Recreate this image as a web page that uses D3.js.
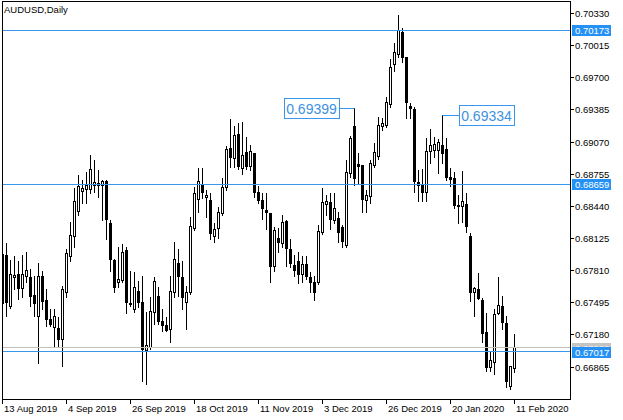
<!DOCTYPE html>
<html>
<head>
<meta charset="utf-8">
<script src="https://cdn.jsdelivr.net/npm/d3@7"></script>
<style>
body { margin: 0; background: #fff; }
svg { display: block; font-family: "Liberation Sans", Arial, sans-serif; }
</style>
</head>
<body>
<script>
// daily candles AUDUSD, 13 Aug 2019 .. 11 Feb 2020
var opens = [
    0.67968, 0.67958, 0.67460, 0.67743, 0.67772, 0.67636, 0.67753, 0.67743, 0.67567, 0.67362,
    0.67753, 0.67518, 0.67332, 0.67254, 0.67244, 0.67137, 0.67596, 0.67949, 0.68144, 0.68389,
    0.68584, 0.68604, 0.68604, 0.68643, 0.68643, 0.68643, 0.68682, 0.68271, 0.67909, 0.67694,
    0.67714, 0.68007, 0.67489, 0.67430, 0.67606, 0.67499, 0.67029, 0.67058, 0.67401, 0.67557,
    0.67313, 0.67274, 0.67235, 0.67596, 0.67880, 0.67743, 0.67499, 0.67596, 0.68222, 0.68506,
    0.68653, 0.68526, 0.68496, 0.68144, 0.68222, 0.68369, 0.68623, 0.69005, 0.68907, 0.69142,
    0.68809, 0.68966, 0.68829, 0.68956, 0.68574, 0.68496, 0.68398, 0.68369, 0.67851, 0.68125,
    0.68076, 0.68291, 0.68017, 0.67861, 0.67900, 0.67772, 0.67870, 0.67743, 0.67694, 0.67694,
    0.68183, 0.68457, 0.68477, 0.68301, 0.68320, 0.68232, 0.68056, 0.68760, 0.69220, 0.68848,
    0.68839, 0.68496, 0.68535, 0.68839, 0.68927, 0.69220, 0.69230, 0.69435, 0.69826, 0.69924,
    0.70139, 0.69895, 0.69416, 0.69386, 0.68672, 0.68643, 0.68574, 0.68975, 0.68985, 0.68985,
    0.69034, 0.68995, 0.68721, 0.68711, 0.68447, 0.68438, 0.68457, 0.68144, 0.67596, 0.67626,
    0.67518, 0.67205, 0.66863, 0.66912, 0.67391, 0.67460, 0.67293, 0.66677, 0.66853
];
var highs = [
    0.68017, 0.68076, 0.67909, 0.67949, 0.67900, 0.67958, 0.67988, 0.67821, 0.67753, 0.67880,
    0.67802, 0.67626, 0.67430, 0.67430, 0.67352, 0.67655, 0.68017, 0.68291, 0.68623, 0.68750,
    0.68702, 0.68780, 0.68946, 0.68897, 0.68799, 0.68702, 0.68702, 0.68310, 0.67919, 0.68046,
    0.68066, 0.68046, 0.67802, 0.67792, 0.67704, 0.67753, 0.67401, 0.67548, 0.67743, 0.67645,
    0.67430, 0.67352, 0.67753, 0.68095, 0.68017, 0.67900, 0.67655, 0.68340, 0.68633, 0.68819,
    0.68819, 0.68604, 0.68574, 0.68281, 0.68438, 0.68721, 0.69034, 0.69298, 0.69230, 0.69259,
    0.69269, 0.69122, 0.69044, 0.68966, 0.68643, 0.68574, 0.68574, 0.68379, 0.68242, 0.68232,
    0.68350, 0.68310, 0.68115, 0.67958, 0.67997, 0.67949, 0.67949, 0.67792, 0.67753, 0.68261,
    0.68623, 0.68555, 0.68574, 0.68574, 0.68389, 0.68261, 0.68897, 0.69132, 0.69399, 0.68966,
    0.68848, 0.68604, 0.68897, 0.69063, 0.69318, 0.69308, 0.69513, 0.69885, 0.70041, 0.70315,
    0.70188, 0.69905, 0.69455, 0.69416, 0.68799, 0.68809, 0.69112, 0.69200, 0.69122, 0.69103,
    0.69334, 0.69112, 0.68819, 0.68780, 0.68555, 0.68790, 0.68574, 0.68183, 0.67645, 0.67782,
    0.67538, 0.67391, 0.67019, 0.67430, 0.67743, 0.67557, 0.67362, 0.66873, 0.67186
];
var lows = [
    0.67469, 0.67362, 0.67440, 0.67626, 0.67528, 0.67548, 0.67694, 0.67460, 0.67362, 0.66902,
    0.67430, 0.67264, 0.67264, 0.67068, 0.67058, 0.66873, 0.67548, 0.67900, 0.68046, 0.68359,
    0.68477, 0.68477, 0.68574, 0.68584, 0.68535, 0.68310, 0.68115, 0.67802, 0.67596, 0.67645,
    0.67694, 0.67391, 0.67460, 0.67401, 0.67450, 0.66726, 0.66697, 0.67039, 0.67283, 0.67283,
    0.67215, 0.67215, 0.67107, 0.67548, 0.67557, 0.67430, 0.67235, 0.67577, 0.68203, 0.68389,
    0.68526, 0.68340, 0.68115, 0.68095, 0.68125, 0.68350, 0.68604, 0.68829, 0.68829, 0.68809,
    0.68760, 0.68809, 0.68799, 0.68535, 0.68477, 0.68320, 0.68213, 0.67694, 0.67802, 0.67988,
    0.68037, 0.67851, 0.67841, 0.67753, 0.67684, 0.67694, 0.67724, 0.67596, 0.67518, 0.67675,
    0.68164, 0.68359, 0.68213, 0.68281, 0.68095, 0.68037, 0.68037, 0.68731, 0.68653, 0.68672,
    0.68389, 0.68389, 0.68477, 0.68829, 0.68907, 0.69191, 0.69220, 0.69416, 0.69768, 0.69905,
    0.69856, 0.69308, 0.69308, 0.68584, 0.68496, 0.68496, 0.68496, 0.68868, 0.68927, 0.68770,
    0.68868, 0.68702, 0.68643, 0.68428, 0.68281, 0.68291, 0.68193, 0.67508, 0.67362, 0.67528,
    0.67107, 0.66824, 0.66824, 0.66794, 0.67381, 0.67235, 0.66667, 0.66648, 0.66814
];
var closes = [
    0.67489, 0.67499, 0.67772, 0.67763, 0.67636, 0.67772, 0.67812, 0.67557, 0.67489, 0.67753,
    0.67508, 0.67332, 0.67283, 0.67362, 0.67137, 0.67626, 0.67978, 0.68154, 0.68486, 0.68633,
    0.68614, 0.68643, 0.68799, 0.68672, 0.68662, 0.68682, 0.68310, 0.67919, 0.67645, 0.67724,
    0.67988, 0.67499, 0.67479, 0.67645, 0.67499, 0.67039, 0.67078, 0.67411, 0.67704, 0.67313,
    0.67274, 0.67225, 0.67606, 0.67919, 0.67753, 0.67548, 0.67596, 0.68242, 0.68565, 0.68682,
    0.68574, 0.68545, 0.68173, 0.68213, 0.68379, 0.68623, 0.68995, 0.68917, 0.69132, 0.68829,
    0.68936, 0.68829, 0.68975, 0.68574, 0.68496, 0.68418, 0.68379, 0.67851, 0.68203, 0.68085,
    0.68281, 0.68027, 0.67880, 0.67812, 0.67772, 0.67870, 0.67753, 0.67694, 0.67596, 0.68193,
    0.68477, 0.68486, 0.68310, 0.68418, 0.68183, 0.68095, 0.68770, 0.69103, 0.68711, 0.68829,
    0.68506, 0.68545, 0.68858, 0.68966, 0.69230, 0.69249, 0.69455, 0.69797, 0.69944, 0.70159,
    0.69895, 0.69455, 0.69396, 0.68682, 0.68643, 0.68574, 0.68975, 0.69034, 0.69044, 0.69063,
    0.68956, 0.68721, 0.68702, 0.68447, 0.68438, 0.68486, 0.68242, 0.67596, 0.67636, 0.67538,
    0.67195, 0.66863, 0.66931, 0.67381, 0.67469, 0.67303, 0.66726, 0.66873, 0.67060
];

// time axis labels and the bar they belong to
var dateLabels = ["13 Aug 2019", "4 Sep 2019", "26 Sep 2019", "18 Oct 2019", "11 Nov 2019",
    "3 Dec 2019", "26 Dec 2019", "20 Jan 2020", "11 Feb 2020"];
var dateBars = [0, 16, 32, 48, 64, 80, 96, 112, 128];

// price scale labels
var priceTicks = [0.70330, 0.70015, 0.69700, 0.69385, 0.69070, 0.68755, 0.68440,
    0.68125, 0.67810, 0.67495, 0.67180, 0.66865];

// horizontal lines, bid line and price labels
var levels = [0.70173, 0.68659, 0.67017];
var bidPrice = 0.67060;
var markBars = [88, 110];
var markPrices = [0.69399, 0.69334];

var lineColor = "#3896ec",
    tagColor = "#2591f5";

var frame = {left: 2, top: 1.5, right: 570, bottom: 399};

var svg = d3.select("body").append("svg")
    .attr("width", 623)
    .attr("height", 420);

var x = d3.scaleLinear()
    .domain([0, opens.length - 1])
    .range([2.5, 514.5]);

var y = d3.scaleLinear()
    .domain([0.66865, 0.70330])
    .range([367, 13.5]);

function snap(v) {
    return Math.round(v - 0.5) + 0.5;
}

svg.append("clipPath")
    .attr("id", "plot")
    .append("rect")
    .attr("x", frame.left + 0.5)
    .attr("y", frame.top + 0.5)
    .attr("width", frame.right - frame.left - 0.5)
    .attr("height", frame.bottom - frame.top - 0.5);

var plot = svg.append("g").attr("clip-path", "url(#plot)");

// candles: wick first, body on top
var candles = plot.append("g")
    .attr("shape-rendering", "crispEdges")
    .selectAll("g")
    .data(opens.map(function (o, i) {
        return {i: i, o: o, h: highs[i], l: lows[i], c: closes[i]};
    }))
    .enter().append("g");

candles.append("line")
    .attr("x1", function (d) { return x(d.i); })
    .attr("x2", function (d) { return x(d.i); })
    .attr("y1", function (d) { return Math.round(y(d.h)); })
    .attr("y2", function (d) { return Math.round(y(d.l)) + 1; })
    .attr("stroke", "#000");

candles.append("path")
    .attr("d", function (d) {
        var cx = x(d.i),
            top = snap(y(Math.max(d.o, d.c))),
            bot = snap(y(Math.min(d.o, d.c)));
        return "M" + (cx - 1) + "," + top + "H" + (cx + 1) + "V" + bot + "H" + (cx - 1) + "Z";
    })
    .attr("fill", function (d) { return d.c >= d.o ? "#fff" : "#000"; })
    .attr("stroke", "#000");

// bid line (1px filled strip)
plot.append("rect")
    .attr("x", frame.left)
    .attr("width", frame.right - frame.left)
    .attr("y", Math.round(y(bidPrice)))
    .attr("height", 1)
    .attr("fill", "#c0c0c0");

// horizontal levels
plot.selectAll(".level")
    .data(levels)
    .enter().append("rect")
    .attr("class", "level")
    .attr("x", frame.left)
    .attr("width", frame.right - frame.left)
    .attr("y", function (d) { return Math.round(y(d)); })
    .attr("height", 1)
    .attr("fill", lineColor);

// boxed price labels with a leader to the candle
var boxW = 55, boxH = 20, gap = [-15.5, 16];
markPrices.forEach(function (p, i) {
    var cx = x(markBars[i]),
        py = Math.round(y(p)),
        bx = gap[i] < 0 ? cx + gap[i] - boxW : cx + gap[i];
    bx = Math.round(bx);
    var edge = gap[i] < 0 ? bx + boxW : bx;
    plot.append("rect")
        .attr("x", Math.min(cx, edge))
        .attr("width", Math.abs(edge - cx))
        .attr("y", py)
        .attr("height", 1)
        .attr("fill", lineColor);
    plot.append("rect")
        .attr("x", bx + 0.5)
        .attr("y", py - 9.5)
        .attr("width", boxW)
        .attr("height", boxH)
        .attr("fill", "#fff")
        .attr("stroke", lineColor)
        .attr("shape-rendering", "crispEdges");
    plot.append("text")
        .attr("x", bx + boxW / 2)
        .attr("y", py + 5.5)
        .attr("text-anchor", "middle")
        .attr("font-size", "14px")
        .attr("fill", "#3d92e0")
        .text(p.toFixed(5));
});

// frame
svg.append("path")
    .attr("d", "M" + (frame.right + 0.5) + "," + frame.top + "H" + (frame.left + 0.5) +
        "V" + (frame.bottom + 0.5) + "H" + (frame.right + 0.5) + "Z")
    .attr("fill", "none")
    .attr("stroke", "#000")
    .attr("shape-rendering", "crispEdges");

// price axis on the right
var yAxis = svg.append("g")
    .attr("font-size", "9.5px")
    .selectAll("g")
    .data(priceTicks)
    .enter().append("g")
    .attr("transform", function (d) { return "translate(0," + snap(y(d)) + ")"; });

yAxis.append("line")
    .attr("x1", frame.right)
    .attr("x2", frame.right + 4)
    .attr("stroke", "#000")
    .attr("shape-rendering", "crispEdges");

yAxis.append("text")
    .attr("x", frame.right + 5)
    .attr("dy", "0.35em")
    .text(function (d) { return d.toFixed(5); });

// price tags on the axis (bid first, blue on top)
var tags = [{p: bidPrice, bg: "#c4c4c4", fg: "#ececec"}].concat(levels.map(function (l) {
    return {p: l, bg: tagColor, fg: "#fff"};
}));

var tag = svg.append("g")
    .attr("font-size", "9.5px")
    .selectAll("g")
    .data(tags)
    .enter().append("g")
    .attr("transform", function (d) { return "translate(0," + snap(y(d.p)) + ")"; });

tag.append("rect")
    .attr("x", frame.right + 2)
    .attr("y", -4.5)
    .attr("width", 39)
    .attr("height", 11)
    .attr("fill", function (d) { return d.bg; });

tag.append("text")
    .attr("x", frame.right + 5)
    .attr("y", 1)
    .attr("dy", "0.35em")
    .attr("fill", function (d) { return d.fg; })
    .text(function (d) { return d.p.toFixed(5); });

// time axis at the bottom
var xAxis = svg.append("g")
    .attr("font-size", "9.5px")
    .selectAll("g")
    .data(dateBars)
    .enter().append("g")
    .attr("transform", function (d) { return "translate(" + x(d) + ",0)"; });

xAxis.append("line")
    .attr("y1", frame.bottom)
    .attr("y2", frame.bottom + 5)
    .attr("stroke", "#000")
    .attr("shape-rendering", "crispEdges");

xAxis.append("text")
    .attr("x", 1.5)
    .attr("y", 412)
    .text(function (d, i) { return dateLabels[i]; });

// symbol and period
svg.append("text")
    .attr("x", 4)
    .attr("y", 13)
    .attr("font-size", "9.5px")
    .text("AUDUSD,Daily");
</script>
</body>
</html>
